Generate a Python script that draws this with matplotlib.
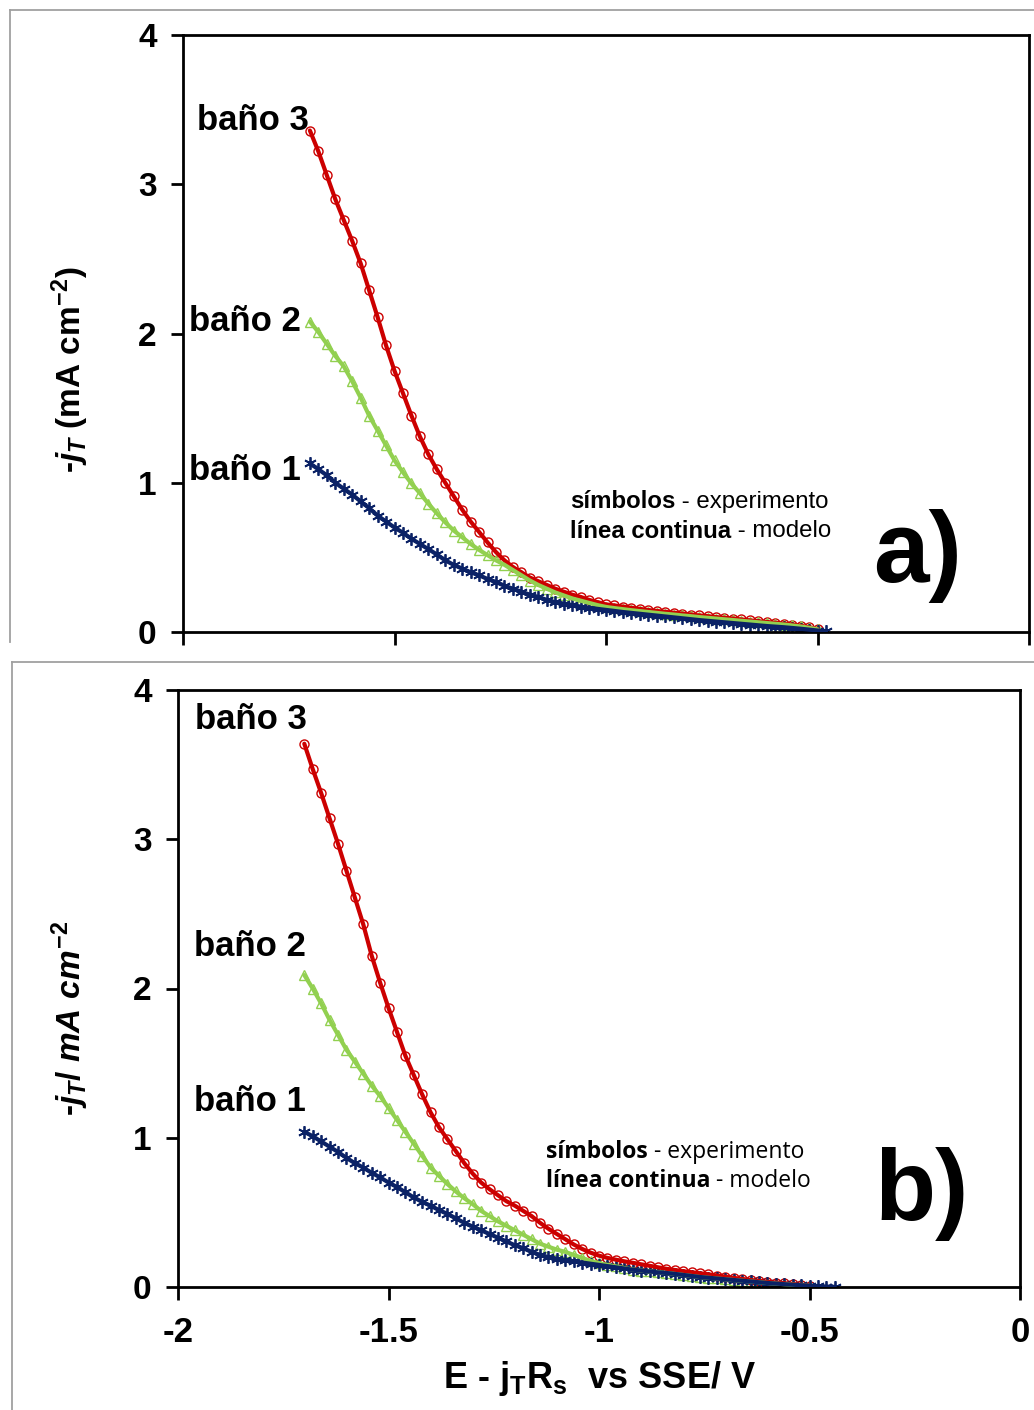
import matplotlib
matplotlib.use('Agg')
import matplotlib.pyplot as plt
from matplotlib.lines import Line2D

# ---------------- data ----------------
E = [-1.70, -1.68, -1.66, -1.64, -1.62, -1.60, -1.58, -1.56, -1.54, -1.52,
     -1.50, -1.48, -1.46, -1.44, -1.42, -1.40, -1.38, -1.36, -1.34, -1.32,
     -1.30, -1.28, -1.26, -1.24, -1.22, -1.20, -1.18, -1.16, -1.14, -1.12,
     -1.10, -1.08, -1.06, -1.04, -1.02, -1.00, -0.98, -0.96, -0.94, -0.92,
     -0.90, -0.88, -0.86, -0.84, -0.82, -0.80, -0.78, -0.76, -0.74, -0.72,
     -0.70, -0.68, -0.66, -0.64, -0.62, -0.60, -0.58, -0.56, -0.54, -0.52,
     -0.50, -0.48, -0.46, -0.44]

# panel a)
a_bano3 = [3.36, 3.22, 3.06, 2.90, 2.76, 2.62, 2.47, 2.29, 2.11, 1.92,
           1.75, 1.60, 1.45, 1.31, 1.19, 1.09, 1.00, 0.91, 0.82, 0.74,
           0.67, 0.60, 0.535, 0.48, 0.435, 0.40, 0.365, 0.34, 0.315, 0.29,
           0.27, 0.25, 0.235, 0.215, 0.20, 0.185, 0.178, 0.170, 0.162, 0.155,
           0.147, 0.141, 0.135, 0.129, 0.123, 0.117, 0.111, 0.106, 0.100, 0.095,
           0.090, 0.084, 0.078, 0.072, 0.067, 0.062, 0.056, 0.050, 0.042, 0.032,
           0.020]
a_bano2 = [2.08, 2.01, 1.93, 1.85, 1.78, 1.68, 1.57, 1.45, 1.35, 1.25,
           1.15, 1.07, 0.995, 0.93, 0.86, 0.795, 0.735, 0.68, 0.635, 0.59,
           0.55, 0.515, 0.48, 0.45, 0.415, 0.38, 0.345, 0.315, 0.29, 0.265,
           0.245, 0.225, 0.21, 0.195, 0.18, 0.168, 0.160, 0.153, 0.146, 0.140,
           0.134, 0.128, 0.122, 0.117, 0.111, 0.106, 0.100, 0.095, 0.090, 0.085,
           0.080, 0.075, 0.070, 0.065, 0.060, 0.055, 0.050, 0.044, 0.037, 0.028,
           0.018]
a_bano1 = [1.13, 1.09, 1.05, 1.00, 0.96, 0.92, 0.875, 0.83, 0.78, 0.74,
           0.70, 0.665, 0.625, 0.59, 0.555, 0.52, 0.48, 0.45, 0.425, 0.40,
           0.38, 0.355, 0.335, 0.31, 0.29, 0.27, 0.25, 0.235, 0.215, 0.20,
           0.19, 0.18, 0.17, 0.162, 0.155, 0.148, 0.141, 0.134, 0.128, 0.122,
           0.116, 0.110, 0.104, 0.098, 0.092, 0.086, 0.080, 0.075, 0.070, 0.065,
           0.060, 0.055, 0.050, 0.045, 0.040, 0.036, 0.032, 0.027, 0.022, 0.016,
           0.010, 0.004]

# panel b)
b_bano3 = [3.64, 3.47, 3.31, 3.14, 2.97, 2.79, 2.61, 2.43, 2.22, 2.04,
           1.87, 1.71, 1.55, 1.42, 1.29, 1.17, 1.07, 0.99, 0.91, 0.83,
           0.76, 0.70, 0.655, 0.615, 0.575, 0.545, 0.51, 0.475, 0.43, 0.39,
           0.355, 0.32, 0.285, 0.255, 0.23, 0.21, 0.195, 0.183, 0.172, 0.162,
           0.152, 0.142, 0.132, 0.122, 0.114, 0.106, 0.099, 0.092, 0.085, 0.077,
           0.069, 0.061, 0.054, 0.047, 0.041, 0.035, 0.030, 0.025, 0.020, 0.015,
           0.010]
b_bano2 = [2.09, 2.00, 1.90, 1.79, 1.69, 1.59, 1.51, 1.43, 1.35, 1.28,
           1.20, 1.12, 1.04, 0.96, 0.88, 0.80, 0.745, 0.69, 0.64, 0.595,
           0.555, 0.51, 0.475, 0.44, 0.41, 0.38, 0.35, 0.32, 0.29, 0.27,
           0.25, 0.235, 0.215, 0.195, 0.175, 0.16, 0.148, 0.138, 0.127, 0.117,
           0.110, 0.104, 0.099, 0.094, 0.088, 0.081, 0.074, 0.067, 0.062, 0.057,
           0.052, 0.047, 0.042, 0.037, 0.032, 0.027, 0.023, 0.019, 0.015, 0.011,
           0.008]
b_bano1 = [1.04, 1.01, 0.975, 0.94, 0.905, 0.865, 0.83, 0.80, 0.765, 0.735,
           0.70, 0.67, 0.635, 0.60, 0.57, 0.545, 0.515, 0.49, 0.46, 0.43,
           0.405, 0.38, 0.355, 0.33, 0.305, 0.28, 0.26, 0.235, 0.215, 0.20,
           0.19, 0.18, 0.172, 0.164, 0.156, 0.148, 0.140, 0.132, 0.124, 0.116,
           0.110, 0.104, 0.098, 0.094, 0.088, 0.081, 0.074, 0.067, 0.062, 0.057,
           0.052, 0.047, 0.042, 0.037, 0.032, 0.027, 0.023, 0.019, 0.015, 0.012,
           0.009, 0.006, 0.003, 0.001]

series_labels = ['baño 1', 'baño 2', 'baño 3']
x_ticks = [-2, -1.5, -1, -0.5, 0]
x_ticklabels = ['-2', '-1.5', '-1', '-0.5', '0']
y_ticks = [0, 1, 2, 3, 4]

# ---------------- style ----------------
plt.rcParams['font.family'] = ['Liberation Sans', 'DejaVu Sans']
plt.rcParams['mathtext.fontset'] = 'custom'
plt.rcParams['mathtext.rm'] = 'Liberation Sans:bold'
plt.rcParams['mathtext.it'] = 'Liberation Sans:bold:italic'
plt.rcParams['mathtext.bf'] = 'Liberation Sans:bold'

RED = '#CC0000'
GREEN = '#92D050'
BLUE = '#0B2266'

W, H = 1034, 1410
fig = plt.figure(figsize=(W / 100, H / 100), dpi=100)


def rect(l, t, r, b):
    return [l / W, 1 - b / H, (r - l) / W, (b - t) / H]


def fig_line(xs, ys):
    fig.add_artist(Line2D([x / W for x in xs], [1 - y / H for y in ys],
                          transform=fig.transFigure, color='#A0A0A0', lw=1.3))


# grey frames of the two pasted panels
fig_line([10, 1034], [10, 10])
fig_line([10, 10], [10, 642])
fig_line([12, 1034], [662, 662])
fig_line([12, 12], [662, 1410])

axA = fig.add_axes(rect(183, 35, 1029, 632))
axB = fig.add_axes(rect(178, 690, 1020, 1287))


def draw_curves(ax, b1, b2, b3):
    specs = [(b3, RED, 'o', 6.5, 1.0), (b2, GREEN, '^', 6.5, 1.0),
             (b1, BLUE, (6, 2, 0), 9, 1.3)]
    for y, c, m, ms, mew in specs:
        x = E[:len(y)]
        ax.plot(x, y, linestyle='none', marker=m, ms=ms, mfc='none',
                mec=c, mew=mew, zorder=2)
        ax.plot(x, y, color=c, lw=3.0, zorder=3, solid_capstyle='round')


draw_curves(axA, a_bano1, a_bano2, a_bano3)
draw_curves(axB, b_bano1, b_bano2, b_bano3)

for ax in (axA, axB):
    ax.set_xlim(-2, 0)
    ax.set_ylim(0, 4)
    ax.set_xticks(x_ticks)
    ax.set_yticks(y_ticks)
    ax.set_yticklabels([str(v) for v in y_ticks], fontsize=24, fontweight='bold')
    for s in ax.spines.values():
        s.set_linewidth(2.0)
        s.set_color('black')
    ax.tick_params(direction='out', length=9, width=2, pad=10)

axA.set_xticklabels([])
axB.set_xticklabels(x_ticklabels, fontsize=25, fontweight='bold')
axB.tick_params(axis='x', pad=12)

# curve labels
lab_kw = dict(fontsize=25, fontweight='bold', ha='right', va='center')
axA.text(-1.722, 1.085, series_labels[0], **lab_kw)
axA.text(-1.722, 2.08, series_labels[1], **lab_kw)
axA.text(-1.702, 3.43, series_labels[2], **lab_kw)
axB.text(-1.696, 1.24, series_labels[0], **lab_kw)
axB.text(-1.696, 2.28, series_labels[1], **lab_kw)
axB.text(-1.694, 3.80, series_labels[2], **lab_kw)


def note(ax, x, y, bold, rest, family, fs):
    t = ax.text(x, y, bold, fontsize=fs, fontweight='bold', family=family,
                ha='left', va='center', transform=ax.transAxes)
    ax.annotate(rest, xy=(1, 0.5), xycoords=t, fontsize=fs, family=family,
                ha='left', va='center')


# annotation notes (axes fraction)
note(axA, (570 - 183) / 846, (632 - 502) / 597, 'símbolos', ' - experimento',
     ['Liberation Sans', 'DejaVu Sans'], 17.3)
note(axA, (570 - 183) / 846, (632 - 531) / 597, 'línea continua', ' - modelo',
     ['Liberation Sans', 'DejaVu Sans'], 17.3)
note(axB, (546 - 178) / 842, (1287 - 1152) / 597, 'símbolos', ' - experimento',
     ['Open Sans', 'DejaVu Sans'], 16.5)
note(axB, (546 - 178) / 842, (1287 - 1181) / 597, 'línea continua', ' - modelo',
     ['Open Sans', 'DejaVu Sans'], 16.5)

# panel letters
fig.text(918 / W, 1 - 556 / H, 'a)', fontsize=72, fontweight='bold',
         ha='center', va='center')
fig.text(922 / W, 1 - 1194 / H, 'b)', fontsize=72, fontweight='bold',
         ha='center', va='center')

# axis labels
fig.text(70 / W, 1 - 370 / H, r'-$\mathit{j}_{\mathit{T}}$ (mA cm$^{\mathrm{-2}}$)',
         rotation=90, fontsize=24, fontweight='bold', ha='center', va='center')
fig.text(70 / W, 1 - 1018 / H, r'-$\mathit{j}_{\mathit{T}}$/ $\mathit{mA\ cm}^{\mathrm{-2}}$',
         rotation=90, fontsize=24, fontweight='bold', ha='center', va='center')
fig.text(600 / W, 1 - 1378 / H, r'E - j$_{\mathrm{T}}$R$_{\mathrm{s}}$  vs SSE/ V',
         fontsize=26, fontweight='bold', ha='center', va='center')

fig.savefig('out.png', dpi=100)
